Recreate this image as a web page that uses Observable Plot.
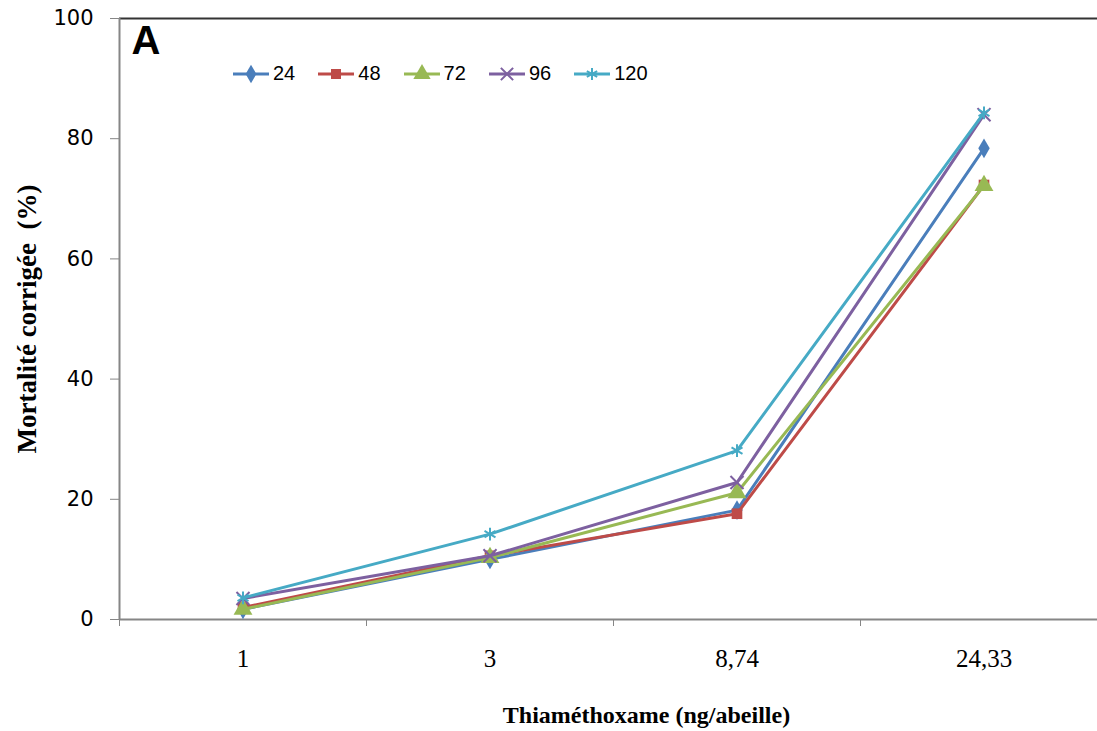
<!DOCTYPE html>
<html>
<head>
<meta charset="utf-8">
<script src="https://cdn.jsdelivr.net/npm/d3@7"></script>
<script src="https://cdn.jsdelivr.net/npm/@observablehq/plot@0.6"></script>
<style>
  html, body { margin: 0; padding: 0; background: #fff; overflow: hidden; }
  #wrap { position: relative; width: 1097px; height: 731px; overflow: hidden; }
  #chart svg { max-width: none !important; }
  #legend { position: absolute; top: 62px; left: 232px; display: flex; font-family: "Liberation Sans Narrow", "Liberation Sans", sans-serif; font-size: 20px; }
  #legend .item { display: flex; align-items: center; width: 85.3px; }
  #legend svg { display: block; }
</style>
</head>
<body>
<div id="wrap"><div id="chart"></div><div id="legend"></div></div>
<script>
const doses = ["1", "3", "8,74", "24,33"];
const seriesNames = ["24", "48", "72", "96", "120"];
const s24  = [1.7, 10.0, 18.2, 78.4];
const s48  = [2.0, 10.6, 17.6, 72.3];
const s72  = [1.7, 10.3, 21.1, 72.2];
const s96  = [3.5, 10.6, 22.8, 84.0];
const s120 = [3.6, 14.2, 28.1, 84.3];
const colors = ["#4A7EBB", "#BE4B48", "#98B954", "#7D60A0", "#46AAC5"];
const symbols = ["diamond", "square", "triangle", "times", "asterisk"];
const yTicks = [0, 20, 40, 60, 80, 100];
const xTitle = "Thiaméthoxame (ng/abeille)";
const yTitle = "Mortalité corrigée  (%)";
const panel = "A";

const allSeries = [s24, s48, s72, s96, s120];
const rows = [];
allSeries.forEach((vals, si) => vals.forEach((v, i) => rows.push({series: seriesNames[si], si, i, v})));
const boundaries = doses.map((d, i) => i - 0.5);
const gray = "#868686";

const marks = [
  Plot.ruleY([100], {stroke: "#333", strokeWidth: 2}),
  Plot.ruleX([-0.5], {stroke: gray, strokeWidth: 2}),
  Plot.ruleY([0], {stroke: gray, strokeWidth: 2}),
  Plot.axisY({ticks: yTicks, tickSize: 9, tickPadding: 17, fontSize: 21, stroke: gray, fill: "#000", label: null, fontFamily: "DejaVu Sans"}),
  Plot.axisX({ticks: boundaries, tickSize: 7, tickFormat: () => "", stroke: gray, label: null}),
  Plot.axisX({ticks: doses.map((d, i) => i), tickSize: 0, tickPadding: 30, tickFormat: i => doses[i], fontSize: 25, fill: "#000", label: null, fontFamily: "Liberation Serif"}),
];
allSeries.forEach((vals, si) => {
  const data = rows.filter(r => r.si === si);
  marks.push(Plot.line(data, {x: "i", y: "v", stroke: colors[si], strokeWidth: 3}));
  const filled = si < 3;
  marks.push(Plot.dot(data, {
    x: "i", y: "v", symbol: () => symbols[si], r: si === 2 ? 7 : 6,
    fill: filled ? colors[si] : "none", stroke: colors[si], strokeWidth: filled ? 0 : 2
  }));
});
marks.push(
  Plot.text([xTitle], {text: d => d, frameAnchor: "bottom", dx: 33, dy: 103, fontSize: 24, fontWeight: "bold", fontFamily: "Liberation Serif", fill: "#000"}),
  Plot.text([yTitle], {text: d => d, frameAnchor: "left", textAnchor: "middle", rotate: -90, dx: -92, dy: 0, fontSize: 27, fontWeight: "bold", fontFamily: "Liberation Serif", fill: "#000"}),
  Plot.text([panel], {text: d => d, frameAnchor: "top-left", dx: 12, dy: 7, fontSize: 40, fontWeight: "bold", fontFamily: "Liberation Sans", fill: "#000"})
);

const chart = Plot.plot({
  width: 1110, height: 731,
  marginLeft: 119, marginRight: 3, marginTop: 18, marginBottom: 112,
  x: {domain: [-0.5, 3.5], axis: null},
  y: {domain: [0, 100], axis: null},
  style: {background: "#fff", overflow: "visible", maxWidth: "none"},
  marks
});
document.getElementById("chart").appendChild(chart);

// legend
const legend = d3.select("#legend");
seriesNames.forEach((name, si) => {
  const item = legend.append("div").attr("class", "item");
  const svg = item.append("svg").attr("width", 40).attr("height", 22);
  svg.append("line").attr("x1", 1).attr("x2", 37).attr("y1", 11).attr("y2", 11)
    .attr("stroke", colors[si]).attr("stroke-width", 3);
  const symMap = {diamond: d3.symbolDiamond, square: d3.symbolSquare, triangle: d3.symbolTriangle, times: d3.symbolTimes, asterisk: d3.symbolAsterisk};
  const filled = si < 3;
  svg.append("path").attr("transform", "translate(19,11)")
    .attr("d", d3.symbol(symMap[symbols[si]], si === 2 ? 130 : 100)())
    .attr("fill", filled ? colors[si] : "none").attr("stroke", filled ? "none" : colors[si]).attr("stroke-width", 2);
  item.append("span").text(name).style("margin-left", "1px");
});
</script>
</body>
</html>
